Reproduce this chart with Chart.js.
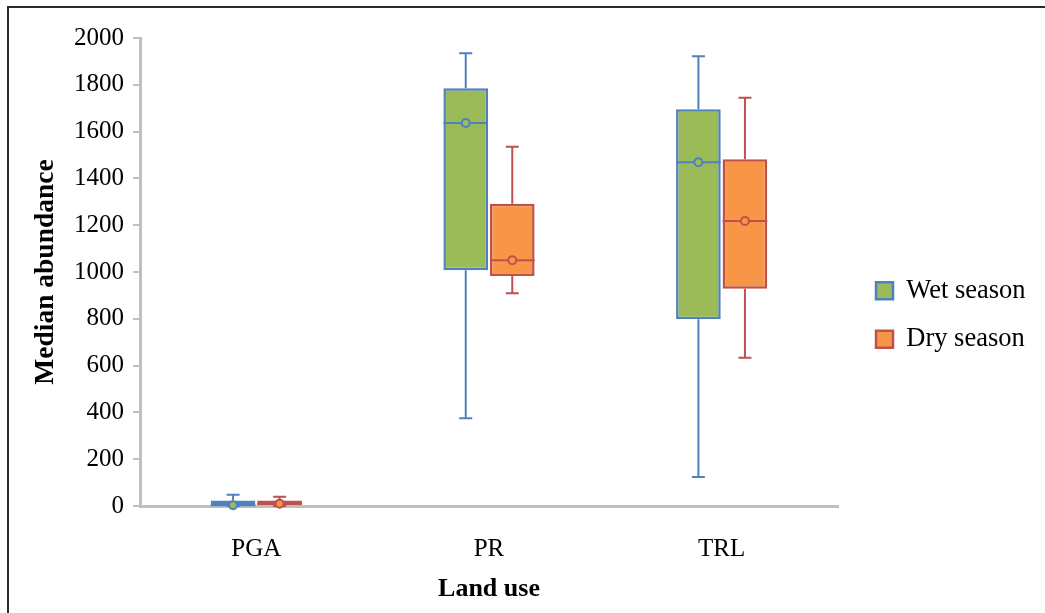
<!DOCTYPE html>
<html>
<head>
<meta charset="utf-8">
<script src="https://cdn.jsdelivr.net/npm/chart.js@4"></script>
<style>
  html, body { margin: 0; padding: 0; background: #fff; }
  #wrap { position: relative; width: 1045px; height: 613px; }
  #frame { position: absolute; left: 7px; top: 6px; right: 0; bottom: 0;
           border-top: 2px solid #2b2b2b; border-left: 2px solid #2b2b2b; pointer-events: none; }
  canvas { position: absolute; left: 0; top: 0; }
</style>
</head>
<body>
<div id="wrap">
  <canvas id="c" width="1045" height="613"></canvas>
  <div id="frame"></div>
</div>
<script>
// ---- data ----
const categories = ['PGA', 'PR', 'TRL'];
const seriesNames = ['Wet season', 'Dry season'];

const wetMin    = [0,   375,  124];
const wetQ1     = [0,   1008, 798];
const wetMedian = [3,   1637, 1469];
const wetQ3     = [23,  1785, 1695];
const wetMax    = [48,  1935, 1922];

const dryMin    = [0,   909,  634];
const dryQ1     = [3,   983,  928];
const dryMedian = [10,  1050, 1218];
const dryQ3     = [23,  1292, 1482];
const dryMax    = [40,  1535, 1745];

const yTicks = [0, 200, 400, 600, 800, 1000, 1200, 1400, 1600, 1800, 2000];

// ---- styling ----
const FONT = "'Liberation Serif', 'Times New Roman', serif";
const wetFill = '#9bbb59', wetLine = '#4f81bd';
const dryFill = '#f79646', dryLine = '#c0504d';

function boxes(q1, q3) { return q1.map((v, i) => [v, q3[i]]); }

const datasets = [
  {
    label: seriesNames[0],
    data: boxes(wetQ1, wetQ3),
    backgroundColor: wetFill, borderColor: wetLine, borderWidth: 2.5, borderSkipped: false,
    stats: { min: wetMin, med: wetMedian, max: wetMax, q1: wetQ1, q3: wetQ3 }
  },
  {
    label: seriesNames[1],
    data: boxes(dryQ1, dryQ3),
    backgroundColor: dryFill, borderColor: dryLine, borderWidth: 2.5, borderSkipped: false,
    stats: { min: dryMin, med: dryMedian, max: dryMax, q1: dryQ1, q3: dryQ3 }
  }
];

const boxPlot = {
  id: 'boxPlot',
  beforeDatasetsDraw(chart) {
    const ctx = chart.ctx, ys = chart.scales.y;
    chart.data.datasets.forEach((ds, di) => {
      const meta = chart.getDatasetMeta(di);
      meta.data.forEach((bar, i) => {
        const st = ds.stats;
        const x = bar.x, cap = 6.5;
        const yMax = ys.getPixelForValue(st.max[i]);
        const yQ3 = ys.getPixelForValue(st.q3[i]);
        const yQ1 = ys.getPixelForValue(st.q1[i]);
        const yMin = ys.getPixelForValue(st.min[i]);
        ctx.save();
        ctx.strokeStyle = ds.borderColor; ctx.lineWidth = 2;
        ctx.beginPath();
        ctx.moveTo(x, yQ3); ctx.lineTo(x, yMax);
        ctx.moveTo(x - cap, yMax); ctx.lineTo(x + cap, yMax);
        ctx.moveTo(x, yQ1); ctx.lineTo(x, yMin);
        ctx.moveTo(x - cap, yMin); ctx.lineTo(x + cap, yMin);
        ctx.stroke();
        ctx.restore();
      });
    });
  },
  afterDatasetsDraw(chart) {
    const ctx = chart.ctx, ys = chart.scales.y;
    chart.data.datasets.forEach((ds, di) => {
      const meta = chart.getDatasetMeta(di);
      meta.data.forEach((bar, i) => {
        const st = ds.stats;
        const x = bar.x, half = bar.width / 2;
        const yMed = ys.getPixelForValue(st.med[i]);
        ctx.save();
        ctx.strokeStyle = ds.borderColor; ctx.lineWidth = 2;
        ctx.beginPath();
        ctx.moveTo(x - half, yMed); ctx.lineTo(x + half, yMed);
        ctx.stroke();
        ctx.beginPath();
        ctx.arc(x, yMed, 4, 0, Math.PI * 2);
        ctx.fillStyle = ds.backgroundColor; ctx.fill();
        ctx.stroke();
        ctx.restore();
      });
    });
  }
};

// move the legend a little away from the plot area, as in the reference
const legendGap = {
  id: 'legendGap',
  afterLayout(chart) {
    if (chart.legend) { chart.legend.left += 16; chart.legend.right += 16; }
  }
};

Chart.defaults.font.family = FONT;
Chart.defaults.color = '#000';

new Chart(document.getElementById('c'), {
  type: 'bar',
  data: { labels: categories, datasets },
  plugins: [boxPlot, legendGap],
  options: {
    responsive: false,
    animation: false,
    events: [],
    layout: { padding: { left: 10, top: 23, right: 0, bottom: 6 } },
    datasets: { bar: { categoryPercentage: 0.40, barPercentage: 0.96 } },
    plugins: {
      tooltip: { enabled: false },
      legend: {
        position: 'right',
        labels: {
          font: { size: 26.5, family: FONT },
          color: '#000',
          boxWidth: 17, boxHeight: 17, padding: 22
        }
      }
    },
    scales: {
      x: {
        grid: { display: false },
        border: { display: true, color: '#bfbfbf', width: 3 },
        ticks: { font: { size: 25, family: FONT }, color: '#000', padding: 20 },
        title: { display: true, text: 'Land use', color: '#000',
                 font: { size: 26, weight: 'bold', family: FONT }, padding: { top: 10, bottom: 2 } },
        afterFit(s) { s.height = 101; s.paddingRight = 207; }
      },
      y: {
        min: 0, max: 2000,
        afterBuildTicks(s) { s.ticks = yTicks.map(v => ({ value: v })); },
        grid: { drawOnChartArea: false, drawTicks: true, tickLength: 7, color: '#bfbfbf', lineWidth: 2 },
        border: { display: true, color: '#bfbfbf', width: 3 },
        ticks: { font: { size: 25, family: FONT }, color: '#000', padding: 9,
                 callback: v => String(v) },
        title: { display: true, text: 'Median abundance', color: '#000',
                 font: { size: 27.5, weight: 'bold', family: FONT }, padding: { top: 19, bottom: 0 } },
        afterFit(s) { s.width = 130; s.paddingTop = 38; }
      }
    }
  }
});
</script>
</body>
</html>
